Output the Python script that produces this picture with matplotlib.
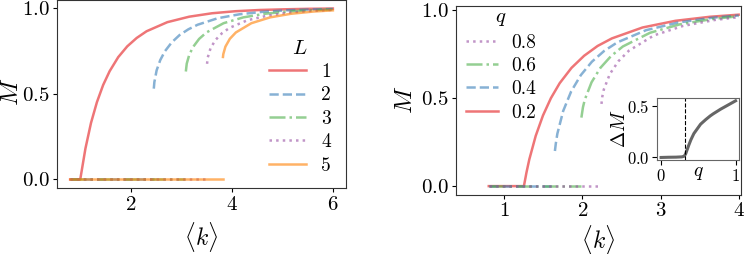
import numpy as np
import matplotlib
matplotlib.use('Agg')
import matplotlib.pyplot as plt

plt.rcParams['font.family'] = 'serif'
plt.rcParams['font.serif'] = ['cmr10', 'DejaVu Serif']
plt.rcParams['mathtext.fontset'] = 'cm'
plt.rcParams['axes.formatter.use_mathtext'] = True

## Left panel : M vs <k> for several L
L_labels = ['1', '2', '3', '4', '5']
k_L = [
    [0.8, 1.0, 1.103, 1.213, 1.330, 1.453, 1.582, 1.752, 1.931, 2.118, 2.313, 2.724, 3.157, 3.609, 4.075, 4.550, 5.034, 5.523, 6.0],
    [2.456, 2.467, 2.512, 2.584, 2.675, 2.811, 2.967, 3.138, 3.323, 3.721, 4.151, 4.602, 5.068, 5.546, 6.0],
    [3.090, 3.108, 3.158, 3.233, 3.352, 3.497, 3.837, 4.228, 4.653, 5.102, 5.569, 6.0],
    [3.510, 3.522, 3.581, 3.680, 3.807, 3.957, 4.307, 4.705, 5.136, 5.591, 6.0],
    [3.825, 3.831, 3.873, 3.961, 4.080, 4.387, 4.758, 5.171, 5.614, 6.0],
]
M_L = [
    [0, 0, 0.181, 0.330, 0.451, 0.551, 0.632, 0.714, 0.777, 0.826, 0.865, 0.918, 0.950, 0.970, 0.982, 0.989, 0.993, 0.996, 0.9975],
    [0.53, 0.568, 0.637, 0.697, 0.748, 0.800, 0.843, 0.876, 0.903, 0.941, 0.964, 0.978, 0.987, 0.992, 0.995],
    [0.63, 0.676, 0.728, 0.773, 0.820, 0.858, 0.912, 0.946, 0.967, 0.980, 0.988, 0.992],
    [0.675, 0.710, 0.768, 0.815, 0.854, 0.885, 0.929, 0.956, 0.974, 0.984, 0.990],
    [0.715, 0.731, 0.775, 0.821, 0.858, 0.912, 0.946, 0.967, 0.980, 0.987],
]
# end of the M=0 branch for each L
k_zero_L = [1.0, 2.45, 3.08, 3.50, 3.82]

## Right panel : M vs <k> for several q
q_labels = ['0.2', '0.4', '0.6', '0.8']
k_q = [
    [0.8, 1.25, 1.283, 1.319, 1.401, 1.494, 1.596, 1.708, 1.859, 2.021, 2.194, 2.377, 2.769, 3.189, 3.631, 4.0],
    [1.647, 1.658, 1.678, 1.753, 1.855, 1.979, 2.120, 2.276, 2.445, 2.816, 3.221, 3.653, 4.0],
    [1.986, 2.006, 2.030, 2.116, 2.229, 2.365, 2.517, 2.865, 3.255, 3.676, 4.0],
    [2.243, 2.254, 2.273, 2.350, 2.460, 2.594, 2.915, 3.288, 3.698, 4.0],
]
M_q = [
    [0, 0, 0.078, 0.152, 0.286, 0.402, 0.501, 0.586, 0.673, 0.742, 0.798, 0.841, 0.903, 0.941, 0.964, 0.976],
    [0.200, 0.241, 0.298, 0.428, 0.539, 0.632, 0.708, 0.769, 0.818, 0.888, 0.931, 0.958, 0.9715],
    [0.39, 0.449, 0.493, 0.591, 0.673, 0.740, 0.795, 0.873, 0.922, 0.952, 0.967],
    [0.468, 0.510, 0.550, 0.638, 0.711, 0.771, 0.858, 0.912, 0.946, 0.962],
]
k_zero_q = [1.25, 1.64, 1.98, 2.24]

## Inset : jump size vs q
q_in = [0.0, 0.1, 0.2, 0.28, 0.31, 0.33, 0.35, 0.37, 0.40, 0.44, 0.50, 0.53, 0.60, 0.66, 0.70, 0.80, 0.90, 1.0]
dM_in = [0.0, 0.002, 0.003, 0.006, 0.012, 0.035, 0.075, 0.115, 0.17, 0.23, 0.29, 0.32, 0.365, 0.40, 0.42, 0.465, 0.505, 0.545]
q_star = 0.32

k_min = 0.8
colors_L = ['#e41a1c', '#377eb8', '#4daf4a', '#984ea3', '#ff7f00']
styles_L = ['-', '--', '-.', ':', '-']
colors_q = ['#e41a1c', '#377eb8', '#4daf4a', '#984ea3']
styles_q = ['-', '--', '-.', ':']
alpha = 0.6
lw = 1.8

fig = plt.figure(figsize=(7.47, 2.54), dpi=100)
ax_l = fig.add_axes([0.0763, 0.2598, 0.3869, 0.7402])
ax_r = fig.add_axes([0.6104, 0.2335, 0.3816, 0.7425])
ax_in = fig.add_axes([0.8800, 0.3689, 0.1097, 0.2453])

for i in range(len(L_labels)):
    ax_l.plot(k_L[i], M_L[i], ls=styles_L[i], color=colors_L[i], alpha=alpha, lw=lw, label=L_labels[i])
    if i > 0:
        ax_l.plot([k_min, k_zero_L[i]], [0, 0], ls=styles_L[i], color=colors_L[i], alpha=alpha, lw=lw)

for i in range(len(q_labels)):
    ax_r.plot(k_q[i], M_q[i], ls=styles_q[i], color=colors_q[i], alpha=alpha, lw=lw, label=q_labels[i])
    if i > 0:
        ax_r.plot([k_min, k_zero_q[i]], [0, 0], ls=styles_q[i], color=colors_q[i], alpha=alpha, lw=lw)

ax_l.set_xticks([2, 4, 6])
ax_l.set_yticks([0.0, 0.5, 1.0])
ax_l.set_xlabel(r'$\langle k\rangle$', fontsize=17)
ax_l.set_ylabel(r'$M$', fontsize=18)
ax_l.xaxis.set_label_coords(0.5, -0.17)
ax_l.yaxis.set_label_coords(-0.117, 0.51)
ax_l.legend(title=r'$L$', loc='lower right', frameon=False, fontsize=14, title_fontsize=15,
            handlelength=1.9, labelspacing=0.28, handletextpad=0.8,
            bbox_to_anchor=(0.975, 0.03), borderaxespad=0)

ax_r.set_xlim(0.38, 4.03)
ax_r.set_xticks([1, 2, 3, 4])
ax_r.set_yticks([0.0, 0.5, 1.0])
ax_r.set_xlabel(r'$\langle k\rangle$', fontsize=17)
ax_r.set_ylabel(r'$M$', fontsize=18)
ax_r.xaxis.set_label_coords(0.5, -0.15)
ax_r.yaxis.set_label_coords(-0.135, 0.5)
h, l = ax_r.get_legend_handles_labels()
ax_r.legend(h[::-1], l[::-1], title=r'$q$', loc='upper left', frameon=False, fontsize=14,
            title_fontsize=15, handlelength=1.65, labelspacing=0.28, handletextpad=0.7,
            bbox_to_anchor=(0.0, 1.04), borderaxespad=0.1)

for ax in (ax_l, ax_r):
    ax.tick_params(labelsize=15, length=3, pad=2.5)
    for s in ax.spines.values():
        s.set_color('0.2')

ax_in.plot(q_in, dM_in, color='0.4', lw=2.2)
ax_in.axvline(q_star, color='black', ls='--', lw=0.8)
ax_in.set_xticks([0, 1])
ax_in.set_yticks([0.0, 0.5])
ax_in.tick_params(labelsize=12, pad=2)
ax_in.set_xlabel(r'$q$', fontsize=14, labelpad=-14)
ax_in.set_ylabel(r'$\Delta M$', fontsize=14, labelpad=-1)
for s in ax_in.spines.values():
    s.set_color('0.4')

plt.savefig('out.png', dpi=100)
plt.close('all')
